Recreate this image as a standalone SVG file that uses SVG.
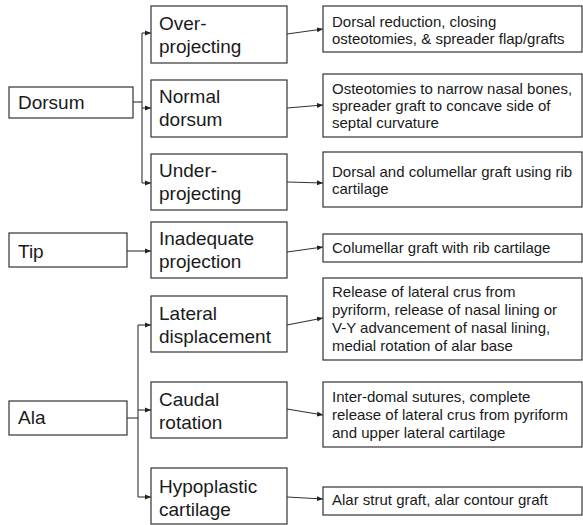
<svg xmlns="http://www.w3.org/2000/svg" width="583" height="525" viewBox="0 0 583 525">
  <style>
    .box { fill: #ffffff; stroke: #333333; stroke-width: 1.2; }
    .lbl { font-family: "Liberation Sans", Arial, sans-serif; font-size: 19px; fill: #1a1a1a; }
    .txt { font-family: "Liberation Sans", Arial, sans-serif; font-size: 15px; fill: #1a1a1a; }
    .wire { fill: none; stroke: #333333; stroke-width: 1.1; }
    .arr { fill: none; stroke: #333333; stroke-width: 1.1; marker-end: url(#head); }
  </style>
  <defs>
    <marker id="head" viewBox="0 0 6 6" refX="6" refY="3" markerWidth="6" markerHeight="6" markerUnits="userSpaceOnUse" orient="auto">
      <path d="M0,0.5 L6,3 L0,5.5 Z" fill="#222222"/>
    </marker>
  </defs>
  <rect width="583" height="525" fill="#ffffff"/>

  <!-- connectors -->
  <g id="connectors">
    <!-- Dorsum branch -->
    <path class="wire" d="M133,102 H142"/>
    <path class="wire" d="M142,33 V183"/>
    <path class="arr" d="M142,33 H151"/>
    <path class="arr" d="M142,108 H151"/>
    <path class="arr" d="M142,183 H151"/>
    <!-- Tip branch -->
    <path class="arr" d="M127,251 H151"/>
    <!-- Ala branch -->
    <path class="wire" d="M127,418 H138"/>
    <path class="wire" d="M138,325 V497"/>
    <path class="arr" d="M138,325 H151"/>
    <path class="arr" d="M138,410 H151"/>
    <path class="arr" d="M138,497 H151"/>
    <!-- condition to treatment -->
    <path class="arr" d="M287,34 L323,29"/>
    <path class="arr" d="M287,108 L323,105"/>
    <path class="arr" d="M287,182 L323,183"/>
    <path class="arr" d="M287,252 L323,247"/>
    <path class="arr" d="M287,325 L323,318"/>
    <path class="arr" d="M287,409 L323,415"/>
    <path class="arr" d="M287,497 L323,499"/>
  </g>

  <!-- regions -->
  <g id="dorsum">
    <rect class="box" x="9" y="87" width="124" height="31"/>
    <text class="lbl" x="18" y="109">Dorsum</text>
  </g>
  <g id="tip">
    <rect class="box" x="9" y="233" width="118" height="34"/>
    <text class="lbl" x="18" y="258">Tip</text>
  </g>
  <g id="ala">
    <rect class="box" x="9" y="401" width="118" height="34"/>
    <text class="lbl" x="18" y="424">Ala</text>
  </g>

  <!-- conditions -->
  <g id="over-projecting">
    <rect class="box" x="151" y="6" width="136" height="57"/>
    <text class="lbl" x="159" y="30">Over-</text>
    <text class="lbl" x="159" y="53">projecting</text>
  </g>
  <g id="normal-dorsum">
    <rect class="box" x="151" y="80" width="136" height="57"/>
    <text class="lbl" x="159" y="103">Normal</text>
    <text class="lbl" x="159" y="126">dorsum</text>
  </g>
  <g id="under-projecting">
    <rect class="box" x="151" y="154" width="136" height="56"/>
    <text class="lbl" x="159" y="177">Under-</text>
    <text class="lbl" x="159" y="200">projecting</text>
  </g>
  <g id="inadequate-projection">
    <rect class="box" x="151" y="222" width="136" height="56"/>
    <text class="lbl" x="159" y="245">Inadequate</text>
    <text class="lbl" x="159" y="268">projection</text>
  </g>
  <g id="lateral-displacement">
    <rect class="box" x="151" y="296" width="136" height="56"/>
    <text class="lbl" x="159" y="320">Lateral</text>
    <text class="lbl" x="159" y="343">displacement</text>
  </g>
  <g id="caudal-rotation">
    <rect class="box" x="151" y="382" width="136" height="56"/>
    <text class="lbl" x="159" y="406">Caudal</text>
    <text class="lbl" x="159" y="429">rotation</text>
  </g>
  <g id="hypoplastic-cartilage">
    <rect class="box" x="151" y="468" width="136" height="56"/>
    <text class="lbl" x="159" y="493">Hypoplastic</text>
    <text class="lbl" x="159" y="516">cartilage</text>
  </g>

  <!-- treatments -->
  <g id="tx-over">
    <rect class="box" x="323" y="6" width="259" height="46"/>
    <text class="txt" x="332" y="27">Dorsal reduction, closing</text>
    <text class="txt" x="332" y="44">osteotomies, &amp; spreader flap/grafts</text>
  </g>
  <g id="tx-normal">
    <rect class="box" x="323" y="74" width="259" height="63"/>
    <text class="txt" x="332" y="94">Osteotomies to narrow nasal bones,</text>
    <text class="txt" x="332" y="111">spreader graft to concave side of</text>
    <text class="txt" x="332" y="128">septal curvature</text>
  </g>
  <g id="tx-under">
    <rect class="box" x="323" y="152" width="259" height="55"/>
    <text class="txt" x="332" y="177">Dorsal and columellar graft using rib</text>
    <text class="txt" x="332" y="194">cartilage</text>
  </g>
  <g id="tx-tip">
    <rect class="box" x="323" y="234" width="259" height="28"/>
    <text class="txt" x="332" y="253">Columellar graft with rib cartilage</text>
  </g>
  <g id="tx-lateral">
    <rect class="box" x="323" y="278" width="259" height="82"/>
    <text class="txt" x="332" y="297">Release of lateral crus from</text>
    <text class="txt" x="332" y="315">pyriform, release of nasal lining or</text>
    <text class="txt" x="332" y="333">V-Y advancement of nasal lining,</text>
    <text class="txt" x="332" y="351">medial rotation of alar base</text>
  </g>
  <g id="tx-caudal">
    <rect class="box" x="323" y="382" width="259" height="65"/>
    <text class="txt" x="332" y="402">Inter-domal sutures, complete</text>
    <text class="txt" x="332" y="420">release of lateral crus from pyriform</text>
    <text class="txt" x="332" y="438">and upper lateral cartilage</text>
  </g>
  <g id="tx-hypoplastic">
    <rect class="box" x="323" y="487" width="259" height="28"/>
    <text class="txt" x="332" y="505">Alar strut graft, alar contour graft</text>
  </g>
</svg>
